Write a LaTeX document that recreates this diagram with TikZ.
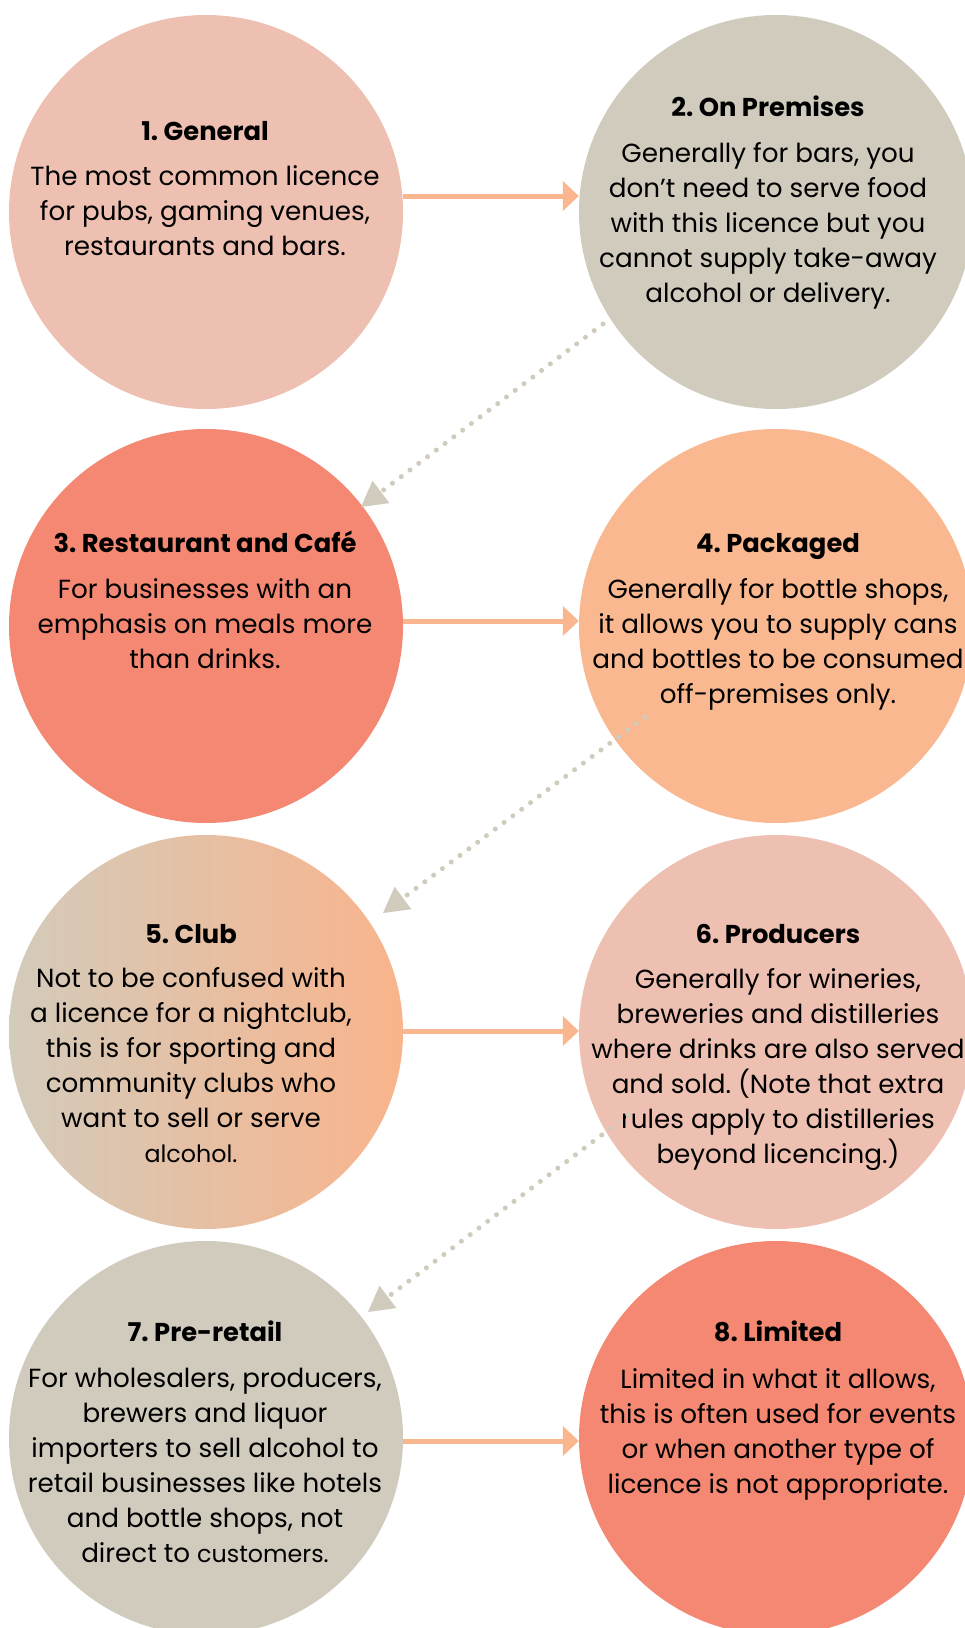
\documentclass[tikz,border=0pt]{standalone}
\usepackage{fontspec}
\setmainfont{Poppins}
\frenchspacing
\usetikzlibrary{arrows.meta}
\definecolor{cPink}{HTML}{EEC0B1}
\definecolor{cGrey}{HTML}{D1CBBD}
\definecolor{cSalmon}{HTML}{F48873}
\definecolor{cPeach}{HTML}{F9B88F}
\definecolor{cArrow}{HTML}{FAB68E}
\definecolor{cDot}{HTML}{D1CBBD}
\definecolor{cClubL}{HTML}{D3CBBB}
\definecolor{cClubR}{HTML}{F9B48C}
\newcommand{\smallword}[1]{{\fontsize{23.8}{35}\selectfont #1}}
\begin{document}
\begin{tikzpicture}[x=1pt,y=-1pt,
  disc/.style={circle, minimum size=394pt, inner sep=0pt, draw=none},
  ttl/.style={font=\fontsize{25.8}{30}\selectfont\bfseries, anchor=base, inner sep=0pt},
  body/.style={font=\fontsize{26.2}{35}\selectfont\frenchspacing, align=center, anchor=base, inner sep=0pt},
  harrow/.style={draw=cArrow, line width=5pt, -{Triangle[length=16pt,width=30pt,line width=0pt,fill=cArrow]}},
  dotarrow/.style={draw=cDot, line width=5pt, line cap=round, dash pattern=on 0pt off 11pt, -{Triangle[length=25pt,width=28pt,line width=0pt,fill=cDot]}}]
\useasboundingbox (0,0) rectangle (964,1628);
\fill[white] (0,0) rectangle (964,1628);
% circles
\node[disc, fill=cPink]   (c1) at (206,212) {};
\node[disc, fill=cGrey]   (c2) at (776,212) {};
\node[disc, fill=cSalmon] (c3) at (206,626) {};
\node[disc, fill=cPeach]  (c4) at (776,626) {};
\node[disc, left color=cClubL, right color=cClubR] (c5) at (206,1032) {};
\node[disc, fill=cPink]   (c6) at (776,1032) {};
\node[disc, fill=cGrey]   (c7) at (206,1438) {};
\node[disc, fill=cSalmon] (c8) at (776,1438) {};
% titles
\node[ttl] (h1) at (205,140) {1. General};
\node[ttl] (h2) at (768,116) {2. On Premises};
\node[ttl] (h3) at (205,552) {3. Restaurant and Café};
\node[ttl] (h4) at (778,552) {4. Packaged};
\node[ttl] (h5) at (191,943) {5. Club};
\node[ttl] (h6) at (778,943) {6. Producers};
\node[ttl] (h7) at (205,1341) {7. Pre-retail};
\node[ttl] (h8) at (778,1341) {8. Limited};
% bodies (anchored at the baseline of their last line)
\node[body] (b1) at (205,255) {The most common licence\\for pubs, gaming venues,\\restaurants and bars.};
\node[body] (b2) at (768,302) {Generally for bars, you\\don’t need to serve food\\with this licence but you\\cannot supply take-away\\alcohol or delivery.};
\node[body] (b3) at (205,668) {For businesses with an\\emphasis on meals more\\than drinks.};
\node[body] (b4) at (778,703) {Generally for bottle shops,\\it allows you to supply cans\\and bottles to be consumed\\off-premises only.};
\node[body] (b5) at (191,1162) {Not to be confused with\\a licence for a nightclub,\\this is for sporting and\\community clubs who\\want to sell or serve\\\smallword{alcohol.}};
\node[body] (b6) at (778,1163) {Generally for wineries,\\breweries and distilleries\\where drinks are also served\\and sold. (Note that extra\\rules apply to distilleries\\beyond licencing.)};
\node[body] (b7) at (205,1562) {For wholesalers, producers,\\brewers and liquor\\importers to sell alcohol to\\retail businesses like hotels\\and bottle shops, not\\direct to \smallword{customers.}};
\node[body] (b8) at (778,1493) {Limited in what it allows,\\this is often used for events\\or when another type of\\licence is not appropriate.};
% horizontal arrows
\draw[harrow] ([yshift=16pt]c1.east) -- ([yshift=16pt]c2.west);
\draw[harrow] ([yshift=5pt]c3.east) -- ([yshift=5pt]c4.west);
\draw[harrow] ([yshift=1pt]c5.east) -- ([yshift=1pt]c6.west);
\draw[harrow] ([yshift=-3pt]c7.east) -- ([yshift=-3pt]c8.west);
% dotted arrows
\coordinate (d1s) at (603,324);
\coordinate (d1e) at (361,507);
\coordinate (d2s) at (645,717);
\coordinate (d2e) at (383,913);
\coordinate (d3s) at (628,1115);
\coordinate (d3e) at (368,1312);
\draw[dotarrow] (d1s) -- (d1e);
\draw[dotarrow] (d2s) -- (d2e);
\draw[dotarrow] (d3s) -- (d3e);
\end{tikzpicture}
\end{document}
